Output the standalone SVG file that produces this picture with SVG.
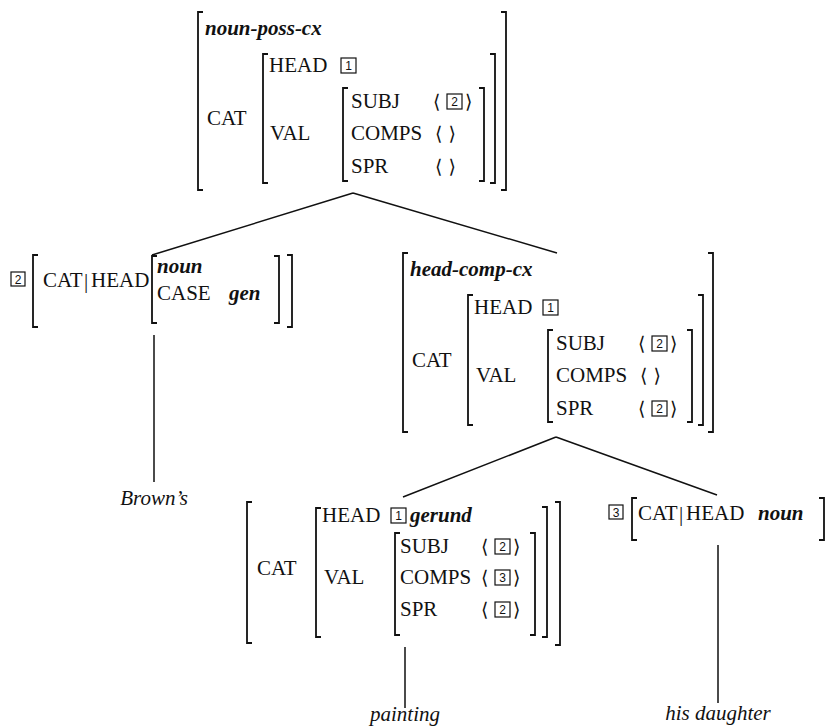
<svg xmlns="http://www.w3.org/2000/svg" width="828" height="727" viewBox="0 0 828 727">
<style>
text{font-family:"Liberation Serif","Times New Roman",serif;font-size:21px;fill:#111}
.t{font-weight:bold;font-style:italic}
.w{font-style:italic}
.ab{font-family:"DejaVu Serif","DejaVu Sans",serif;font-size:19px}
.n{font-family:"Liberation Sans",Arial,sans-serif;font-size:12px;text-anchor:middle}
.br{fill:none;stroke:#111;stroke-width:1.8}
.bx{fill:none;stroke:#111;stroke-width:1.2}
.ln{stroke:#111;stroke-width:1.5;fill:none}
</style>
<rect width="828" height="727" fill="#fff"/>
<g id="connectors">
<path class="ln" d="M353 193 L152 255 M353 193 L557 253"/>
<path class="ln" d="M556 437 L403 497 M556 437 L717 495"/>
<path class="ln" d="M154 335 V482 M405 647 V708 M718 545 V703"/>
</g>
<g id="node-noun-poss">
<path class="br" d="M203 12 H198 V190 H203 M501 12 H506 V190 H501"/>
<text class="t" x="205" y="35">noun-poss-cx</text>
<text x="207" y="125">CAT</text>
<path class="br" d="M268 54 H263 V183 H268 M490 54 H495 V183 H490"/>
<text x="269" y="72">HEAD</text>
<rect class="bx" x="341" y="58" width="15" height="15"/><text class="n" x="348.5" y="70">1</text>
<text x="270" y="140">VAL</text>
<path class="br" d="M348 88 H343 V181 H348 M479 88 H484 V181 H479"/>
<text x="351" y="108">SUBJ</text>
<text class="ab" x="433" y="108">⟨</text><rect class="bx" x="447" y="94" width="15" height="15"/><text class="n" x="454.5" y="106">2</text><text class="ab" x="465" y="108">⟩</text>
<text x="351" y="140">COMPS</text>
<text class="ab" x="435" y="140">⟨ ⟩</text>
<text x="351" y="173">SPR</text>
<text class="ab" x="435" y="173">⟨ ⟩</text>
</g>
<g id="node-brown">
<rect class="bx" x="11" y="272" width="14" height="14"/><text class="n" x="18" y="283.5">2</text>
<path class="br" d="M38 255 H33 V327 H38 M287 255 H292 V327 H287"/>
<text x="43" y="287">CAT</text><text x="84" y="288">|</text><text x="91" y="287">HEAD</text>
<path class="br" d="M157 256 H152 V323 H157 M274 256 H279 V323 H274"/>
<text class="t" x="157" y="273">noun</text>
<text x="157" y="300">CASE</text><text class="t" x="229" y="300">gen</text>
</g>
<g id="node-head-comp">
<path class="br" d="M408 253 H403 V432 H408 M708 253 H713 V432 H708"/>
<text class="t" x="410" y="276">head-comp-cx</text>
<text x="412" y="367">CAT</text>
<path class="br" d="M473 295 H468 V425 H473 M698 295 H703 V425 H698"/>
<text x="474" y="314">HEAD</text>
<rect class="bx" x="543" y="300" width="15" height="15"/><text class="n" x="550.5" y="312">1</text>
<text x="476" y="382">VAL</text>
<path class="br" d="M553 330 H548 V422 H553 M687 330 H692 V422 H687"/>
<text x="556" y="350">SUBJ</text>
<text class="ab" x="638" y="350">⟨</text><rect class="bx" x="652" y="336" width="15" height="15"/><text class="n" x="659.5" y="348">2</text><text class="ab" x="670" y="350">⟩</text>
<text x="556" y="382">COMPS</text>
<text class="ab" x="640" y="382">⟨ ⟩</text>
<text x="556" y="415">SPR</text>
<text class="ab" x="638" y="415">⟨</text><rect class="bx" x="652" y="401" width="15" height="15"/><text class="n" x="659.5" y="413">2</text><text class="ab" x="670" y="415">⟩</text>
</g>
<g id="node-painting">
<path class="br" d="M252 502 H247 V643 H252 M555 502 H560 V645 H555"/>
<text x="257" y="575">CAT</text>
<path class="br" d="M321 508 H316 V637 H321 M542 507 H547 V637 H542"/>
<text x="322" y="522">HEAD</text>
<rect class="bx" x="391" y="508" width="15" height="15"/><text class="n" x="398.5" y="520">1</text>
<text class="t" x="410" y="522">gerund</text>
<text x="324" y="584">VAL</text>
<path class="br" d="M400 533 H395 V635 H400 M530 533 H535 V635 H530"/>
<text x="400" y="553">SUBJ</text>
<text class="ab" x="481" y="553">⟨</text><rect class="bx" x="495" y="539" width="15" height="15"/><text class="n" x="502.5" y="551">2</text><text class="ab" x="513" y="553">⟩</text>
<text x="400" y="584">COMPS</text>
<text class="ab" x="481" y="584">⟨</text><rect class="bx" x="495" y="570" width="15" height="15"/><text class="n" x="502.5" y="582">3</text><text class="ab" x="513" y="584">⟩</text>
<text x="400" y="616">SPR</text>
<text class="ab" x="481" y="616">⟨</text><rect class="bx" x="495" y="602" width="15" height="15"/><text class="n" x="502.5" y="614">2</text><text class="ab" x="513" y="616">⟩</text>
</g>
<g id="node-daughter-avm">
<rect class="bx" x="609" y="505" width="14" height="14"/><text class="n" x="616" y="516.5">3</text>
<path class="br" d="M637 498 H632 V540 H637 M819 498 H824 V540 H819"/>
<text x="638" y="520">CAT</text><text x="679" y="521">|</text><text x="686" y="520">HEAD</text>
<text class="t" x="758" y="520">noun</text>
</g>
<g id="word-browns"><text class="w" x="154" y="505" text-anchor="middle">Brown’s</text></g>
<g id="word-painting"><text class="w" x="405" y="721" text-anchor="middle">painting</text></g>
<g id="word-his-daughter"><text class="w" x="718" y="720" text-anchor="middle">his daughter</text></g>
</svg>
